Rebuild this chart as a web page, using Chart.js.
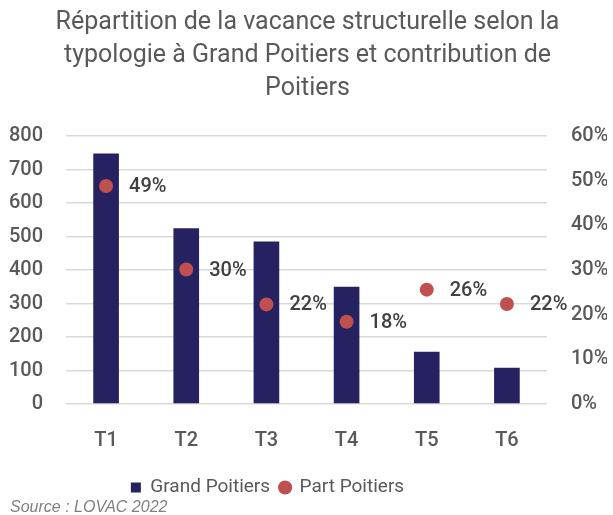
<!DOCTYPE html>
<html>
<head>
<meta charset="utf-8">
<script src="https://cdn.jsdelivr.net/npm/chart.js@4/dist/chart.umd.min.js"></script>
<style>
  html, body { margin: 0; padding: 0; background: #fff; }
  #wrap { width: 613px; height: 515px; position: relative; }
</style>
</head>
<body>
<div id="wrap"><canvas id="graphique"></canvas></div>
<script>
// donnees
const typologies = ['T1', 'T2', 'T3', 'T4', 'T5', 'T6'];
const vacanceGP = [748, 525, 485, 350, 156, 108]; // logements vacants Grand Poitiers
const partPoitiers = [0.488, 0.301, 0.223, 0.184, 0.256, 0.224]; // part de Poitiers
const titre = ['Répartition de la vacance structurelle selon la',
    'typologie à Grand Poitiers et contribution de',
    'Poitiers'];
const source = 'Source : LOVAC 2022';

const police = "Roboto, 'Noto Sans', sans-serif";
const gris = '#595959';

// etiquettes a droite des points
const etiquettes = {
    id: 'etiquettes',
    afterDatasetsDraw(chart) {
        const ctx = chart.ctx;
        const meta = chart.getDatasetMeta(0);
        ctx.save();
        ctx.font = '500 20px ' + police;
        ctx.fillStyle = '#404040';
        ctx.textAlign = 'left';
        ctx.textBaseline = 'middle';
        meta.data.forEach((pt, i) => {
            ctx.fillText(Math.round(partPoitiers[i] * 100) + '%', pt.x + 23, pt.y + 1);
        });
        ctx.restore();
    }
};

// legende un peu decalee vers la gauche comme sur l'original
const decalageLegende = {
    id: 'decalageLegende',
    afterLayout(chart) {
        chart.legend.left -= 40;
        chart.legend.right -= 40;
    }
};

const sourceTxt = {
    id: 'sourceTxt',
    afterDraw(chart) {
        const ctx = chart.ctx;
        ctx.save();
        ctx.font = 'italic 16px "Liberation Sans", Arial, sans-serif';
        ctx.fillStyle = '#7f7f7f';
        ctx.textAlign = 'left';
        ctx.textBaseline = 'alphabetic';
        ctx.fillText(source, 10, 512);
        ctx.restore();
    }
};

const graphique = new Chart(document.getElementById('graphique').getContext('2d'), {
    data: {
        labels: typologies,
        datasets: [{
            type: 'line',
            label: 'Part Poitiers',
            data: partPoitiers,
            yAxisID: 'y2',
            showLine: false,
            pointRadius: 7,
            pointHoverRadius: 7,
            pointBackgroundColor: '#c0504d',
            pointBorderWidth: 0,
            backgroundColor: '#c0504d',
            borderColor: '#c0504d',
            pointStyle: 'circle',
            order: 0
        }, {
            type: 'bar',
            label: 'Grand Poitiers',
            data: vacanceGP,
            yAxisID: 'y',
            backgroundColor: '#262262',
            borderColor: '#262262',
            borderWidth: 0,
            barPercentage: 0.64,
            categoryPercentage: 0.5,
            pointStyle: 'rect',
            order: 1
        }]
    },
    options: {
        responsive: true,
        maintainAspectRatio: false,
        animation: false,
        layout: { padding: { left: 8, right: 6, top: 6, bottom: 8 } },
        plugins: {
            title: {
                display: true,
                text: titre,
                color: gris,
                font: { family: police, size: 25, weight: 'normal', lineHeight: 1.32 },
                padding: { top: 0, bottom: 31 }
            },
            legend: {
                position: 'bottom',
                reverse: true,
                labels: {
                    usePointStyle: true,
                    boxWidth: 10,
                    boxHeight: 10,
                    padding: 10,
                    color: gris,
                    font: { family: police, size: 19, weight: 'normal' }
                }
            },
            tooltip: { enabled: false }
        },
        scales: {
            x: {
                grid: { display: false },
                border: { display: false },
                ticks: { color: gris, padding: 17, font: { family: police, size: 20, weight: '500' } },
                afterFit(s) { s.height = 64; }
            },
            y: {
                position: 'left',
                min: 0,
                max: 800,
                grid: { color: '#d9d9d9', lineWidth: 1.5, drawTicks: false },
                border: { display: false },
                ticks: { stepSize: 100, color: gris, padding: 23, font: { family: police, size: 20, weight: '500' } },
                afterFit(s) { s.width = 58; }
            },
            y2: {
                position: 'right',
                min: 0,
                max: 0.6,
                grid: { display: false, drawTicks: false },
                border: { display: false },
                ticks: {
                    stepSize: 0.1,
                    color: gris,
                    padding: 24,
                    font: { family: police, size: 20, weight: '500' },
                    callback: v => Math.round(v * 100) + '%'
                },
                afterFit(s) { s.width = 60; }
            }
        }
    },
    plugins: [etiquettes, decalageLegende, sourceTxt]
});
</script>
</body>
</html>
